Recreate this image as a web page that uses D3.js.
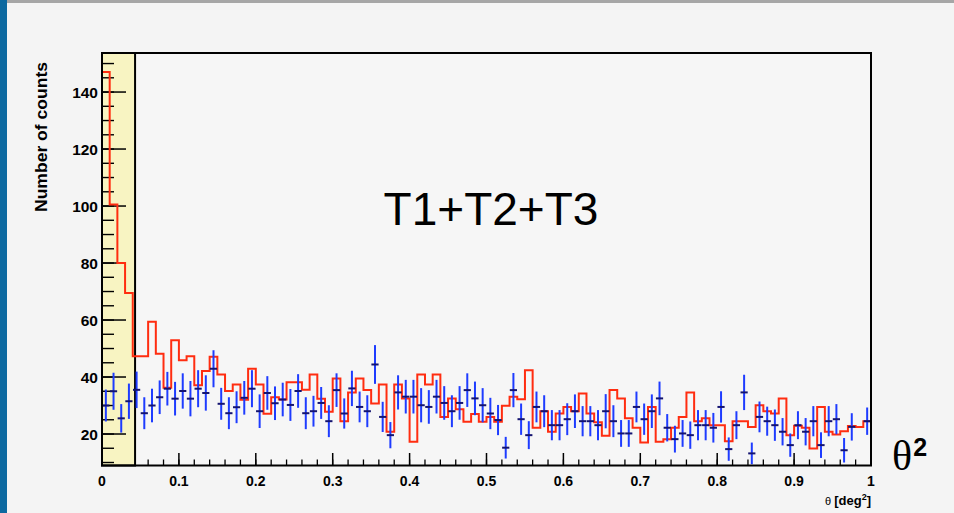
<!DOCTYPE html>
<html>
<head>
<meta charset="utf-8">
<script src="https://cdn.jsdelivr.net/npm/d3@7"></script>
<style>
html,body{margin:0;padding:0;background:#f4f4f4;}
svg{display:block;}
</style>
</head>
<body>
<svg id="chart" width="954" height="513"></svg>
<script>
// ---- data ----
const binWidth = 0.01;
const onCounts = [147,100.5,80,69.5,47.3,47.3,59.4,48.2,36.2,52.9,
  45.9,47.3,37.1,42.1,47.1,40.9,35.1,37.4,32,42.9,
  37.4,27.1,32.9,32.1,38.2,38.2,35.5,40.9,32.4,27.8,
  39.5,24.5,34.6,39.5,35.4,30.7,37.4,20.8,37.4,32.5,
  17.3,40.9,37.4,40.9,26,32.5,28.7,24.3,27,24.3,
  26,24.3,29.9,33.1,32.2,42.4,22.2,28,20.8,27.2,
  29.5,28,34.2,27.2,24.1,19.4,35.4,32.5,25.5,22.2,
  17,29.5,17.3,18.2,22.2,26,34.6,24.5,25.5,23.1,
  23.1,17.5,24.5,24.5,22.5,30.1,28,27.2,32.5,19.6,
  22.9,22.2,14.9,29.5,20.8,19.8,21,22.8,22.5,24.5];
const offCounts = [30,35,25.5,31.5,35.5,27.3,30,32.9,35.9,32.4,
  35.1,32.4,35.9,34.4,42.9,30.6,27.3,29.4,32.7,35.9,
  28,34.4,30.8,32.1,30.2,35.1,27.3,28,30.9,24.5,
  35.4,27.2,36,29.5,28,44.4,26,19.6,34.6,33.1,
  33.1,30.1,29.5,33.1,30.9,28,30.9,35.4,32.5,30.1,
  27.2,24.9,15.2,35.4,25.2,19.6,29.5,28,23.1,23.1,
  25.2,28,24.5,24.5,23.1,28,24.5,20.2,20.2,29.5,
  25.2,28,32.5,22.2,18.2,20.2,19.6,23.1,23.1,22.2,
  29.5,14.7,23.1,34.6,13.2,26,24.5,23.1,20.8,16.1,
  23.1,20.8,24.5,16.1,24.5,25.2,14.3,22.5,null,24.5];
const offErr = [5.6,6.5,5.0,6.2,6.4,5.6,5.9,5.9,5.9,5.9,
  6.2,6.2,6.5,6.2,6.5,5.6,5.6,5.6,5.9,6.5,
  5.9,5.9,5.9,5.9,5.6,5.9,5.6,5.4,5.6,5.6,
  5.9,5.3,6.2,5.4,5.6,6.8,5.3,4.6,6.0,5.9,
  5.9,6.0,5.9,5.9,5.9,5.6,5.9,5.9,5.9,6.0,
  5.5,5.3,3.8,6.0,5.5,4.9,5.4,5.6,5.3,5.3,
  5.6,5.9,5.3,5.3,5.3,6.0,5.6,4.7,4.7,5.4,
  5.5,5.9,5.9,4.8,4.7,4.7,4.8,5.3,5.3,5.2,
  5.5,4.1,4.9,6.2,3.8,5.4,5.1,5.5,4.8,4.1,
  4.9,4.8,5.3,4.5,5.3,5.3,4.3,4.8,null,4.8];
const cutTheta2 = 0.043;
const yMajorTicks = [20,40,60,80,100,120,140];
const xMajorTicks = [0,0.1,0.2,0.3,0.4,0.5,0.6,0.7,0.8,0.9,1];
const xTickLabels = ["0","0.1","0.2","0.3","0.4","0.5","0.6","0.7","0.8","0.9","1"];
const yDomain = [8.95, 153.7];
const xDomain = [0, 1];

// ---- layout ----
const svg = d3.select("#chart");
const W = 954, H = 513;
const L = 102, R = 871, T = 53, B = 465.5;
const x = d3.scaleLinear().domain(xDomain).range([L, R]);
const y = d3.scaleLinear().domain(yDomain).range([B, T]);
const sans = "Liberation Sans, Arial, sans-serif";

svg.append("rect").attr("width", W).attr("height", H).attr("fill", "#f4f4f4");
svg.append("rect").attr("x", 0).attr("y", 0).attr("width", 7).attr("height", H).attr("fill", "#0d69a0");
svg.append("rect").attr("x", 7).attr("y", 0).attr("width", W - 7).attr("height", 3).attr("fill", "#a6a6a6");

// plot area background
svg.append("rect").attr("x", L).attr("y", T).attr("width", R - L).attr("height", B - T).attr("fill", "#f6f6f6");

// x ticks (inward, bottom)
const xMinor = d3.range(0, 1.0001, 0.02);
const gx = svg.append("g");
gx.selectAll("line.minor").data(xMinor).join("line")
  .attr("x1", d => x(d)).attr("x2", d => x(d))
  .attr("y1", B).attr("y2", B - 6)
  .attr("stroke", "#000").attr("stroke-width", 1.3);
gx.selectAll("line.major").data(xMajorTicks).join("line")
  .attr("x1", d => x(d)).attr("x2", d => x(d))
  .attr("y1", B).attr("y2", B - 12.5)
  .attr("stroke", "#000").attr("stroke-width", 1.5);

// yellow cut box
svg.append("rect").attr("x", x(0)).attr("y", T).attr("width", x(cutTheta2) - x(0)).attr("height", B - T)
  .attr("fill", "#f8f4c2").attr("stroke", "#000").attr("stroke-width", 2);

// y ticks (inward, left)
const yMinor = d3.range(10, 154, 5);
const gy = svg.append("g");
gy.selectAll("line.minor").data(yMinor).join("line")
  .attr("x1", L).attr("x2", L + 12)
  .attr("y1", d => y(d)).attr("y2", d => y(d))
  .attr("stroke", "#000").attr("stroke-width", 1.4);
gy.selectAll("line.major").data(yMajorTicks).join("line")
  .attr("x1", L).attr("x2", L + 24)
  .attr("y1", d => y(d)).attr("y2", d => y(d))
  .attr("stroke", "#000").attr("stroke-width", 1.5);

// red ON histogram (step line)
const stepPts = [];
onCounts.forEach((v, i) => {
  stepPts.push([x(i * binWidth), y(v)]);
  stepPts.push([x((i + 1) * binWidth), y(v)]);
});
svg.append("path").attr("d", d3.line()(stepPts))
  .attr("fill", "none").attr("stroke", "#ff2d10").attr("stroke-width", 2);

// blue OFF points with error bars
const pts = offCounts.map((v, i) => ({v, e: offErr[i], c: (i + 0.5) * binWidth})).filter(d => d.v != null);
const gp = svg.append("g");
gp.selectAll("line.ev").data(pts).join("line")
  .attr("x1", d => x(d.c)).attr("x2", d => x(d.c))
  .attr("y1", d => y(d.v - d.e)).attr("y2", d => y(d.v + d.e))
  .attr("stroke", "#1e3cff").attr("stroke-width", 2);
gp.selectAll("line.eh").data(pts).join("line")
  .attr("x1", d => x(d.c) - 3.6).attr("x2", d => x(d.c) + 3.6)
  .attr("y1", d => y(d.v)).attr("y2", d => y(d.v))
  .attr("stroke", "#141470").attr("stroke-width", 2);

// frame
svg.append("rect").attr("x", L).attr("y", T).attr("width", R - L).attr("height", B - T)
  .attr("fill", "none").attr("stroke", "#000").attr("stroke-width", 2);

// tick labels
svg.append("g").selectAll("text").data(yMajorTicks).join("text")
  .attr("x", L - 4).attr("y", d => y(d)).attr("dy", "0.36em")
  .attr("text-anchor", "end")
  .attr("font-family", sans).attr("font-weight", "bold").attr("font-size", 15.5)
  .text(d => d);
svg.append("g").selectAll("text").data(xMajorTicks).join("text")
  .attr("x", d => x(d)).attr("y", 486)
  .attr("text-anchor", "middle")
  .attr("font-family", sans).attr("font-weight", "bold").attr("font-size", 14)
  .text((d, i) => xTickLabels[i]);

// axis titles
svg.append("text")
  .attr("transform", "translate(47,137) rotate(-90)")
  .attr("text-anchor", "middle")
  .attr("font-family", sans).attr("font-weight", "bold").attr("font-size", 16)
  .attr("textLength", 150).attr("lengthAdjust", "spacingAndGlyphs")
  .text("Number of counts");
const xt = svg.append("text")
  .attr("x", R).attr("y", 505).attr("text-anchor", "end")
  .attr("font-family", sans).attr("font-weight", "bold").attr("font-size", 13);
xt.append("tspan").attr("font-weight", "normal").attr("font-size", 11).text("θ ");
xt.append("tspan").text("[deg");
xt.append("tspan").attr("font-size", 9).attr("dy", -5).text("2");
xt.append("tspan").attr("dy", 5).text("]");

// annotations
svg.append("text").attr("x", 491).attr("y", 225).attr("text-anchor", "middle")
  .attr("font-family", sans).attr("font-size", 46)
  .text("T1+T2+T3");
const th = svg.append("text").attr("x", 892).attr("y", 470)
  .attr("font-family", "Liberation Serif, Times New Roman, serif").attr("font-size", 42);
th.append("tspan").text("θ");
th.append("tspan").attr("font-family", sans).attr("font-size", 25).attr("font-weight", "bold").attr("dx", 1).attr("dy", -14).text("2");
</script>
</body>
</html>
